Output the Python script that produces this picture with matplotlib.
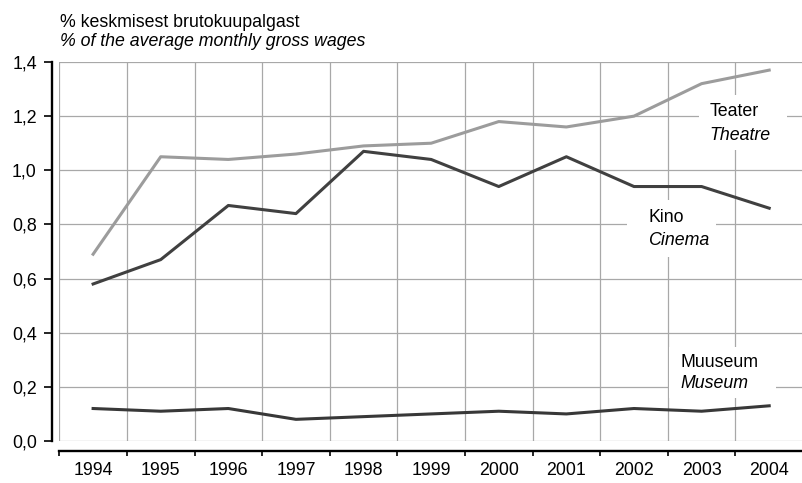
import matplotlib
matplotlib.use("Agg")
import matplotlib.pyplot as plt
from matplotlib.patches import Rectangle
import numpy as np

years = ["1994", "1995", "1996", "1997", "1998", "1999", "2000", "2001", "2002", "2003", "2004"]
teater = [0.69, 1.05, 1.04, 1.06, 1.09, 1.10, 1.18, 1.16, 1.20, 1.32, 1.37]
kino = [0.58, 0.67, 0.87, 0.84, 1.07, 1.04, 0.94, 1.05, 0.94, 0.94, 0.86]
muuseum = [0.12, 0.11, 0.12, 0.08, 0.09, 0.10, 0.11, 0.10, 0.12, 0.11, 0.13]
yticks = [0.0, 0.2, 0.4, 0.6, 0.8, 1.0, 1.2, 1.4]
ytick_labels = ["0,0", "0,2", "0,4", "0,6", "0,8", "1,0", "1,2", "1,4"]

plt.rcParams['font.family'] = ['Liberation Sans', 'DejaVu Sans']
FS = 12.8

W, H = 803, 483
fig = plt.figure(figsize=(W / 100, H / 100), dpi=100)

left_px, right_px, top_px, bot_px = 59.3, 803, 62, 441
step = 68.6
ax = fig.add_axes([left_px / W, (H - bot_px) / H, (right_px - left_px) / W, (bot_px - top_px) / H])

x = np.arange(len(years))
ax.set_xlim(-0.5, -0.5 + (right_px - left_px) / step)
ax.set_ylim(0, 1.4)

grid_c = '#a8a8a8'
ax.set_xticks(np.arange(len(years) + 1) - 0.5)
ax.set_xticklabels([])
ax.set_xticks(x, minor=True)
ax.set_xticklabels(years, minor=True)
ax.tick_params(axis='x', which='minor', length=0, pad=7.5, labelsize=FS)
ax.tick_params(axis='x', which='major', length=3.6, width=1.2, direction='out', color='black')
ax.set_yticks(yticks)
ax.set_yticklabels(ytick_labels)
ax.tick_params(axis='y', length=6, width=1.2, pad=4.7, direction='out', color='black', labelsize=FS)

ax.grid(True, which='major', axis='both', color=grid_c, linewidth=0.9)
ax.set_axisbelow(True)

for s in ['top', 'right']:
    ax.spines[s].set_visible(False)
ax.spines['left'].set_position(('outward', 5.5))
ax.spines['left'].set_bounds(0, 1.4)
ax.spines['left'].set_linewidth(1.7)
ax.spines['bottom'].set_position(('outward', 7.5))
ax.spines['bottom'].set_linewidth(1.7)

ax.plot(x, teater, color='#9c9c9c', linewidth=2.2, zorder=3)
ax.plot(x, kino, color='#404040', linewidth=2.2, zorder=3)
ax.plot(x, muuseum, color='#383838', linewidth=2.2, zorder=3)

# label boxes (white) covering the grid
boxes = [
    ((8.957, 1.075), 1.313, 0.203),
    ((7.90, 0.680), 1.31, 0.21),
    ((8.518, 0.159), 1.589, 0.188),
]
for (bx, by), bw, bh in boxes:
    ax.add_patch(Rectangle((bx, by), bw, bh, facecolor='white', edgecolor='none', zorder=2))

ax.text(9.117, 1.2005, "Teater", fontsize=FS, va='baseline', ha='left', zorder=4)
ax.text(9.117, 1.1118, "Theatre", fontsize=FS, style='italic', va='baseline', ha='left', zorder=4)
ax.text(8.208, 0.809, "Kino", fontsize=FS, va='baseline', ha='left', zorder=4)
ax.text(8.208, 0.724, "Cinema", fontsize=FS, style='italic', va='baseline', ha='left', zorder=4)
ax.text(8.694, 0.2734, "Muuseum", fontsize=FS, va='baseline', ha='left', zorder=4)
ax.text(8.694, 0.196, "Museum", fontsize=FS, style='italic', va='baseline', ha='left', zorder=4)

fig.text(60 / W, 1 - 27.3 / H, "% keskmisest brutokuupalgast", fontsize=FS, va='baseline', ha='left')
fig.text(60 / W, 1 - 46 / H, "% of the average monthly gross wages", fontsize=FS, style='italic', va='baseline', ha='left')

fig.savefig("out.png", dpi=100)
